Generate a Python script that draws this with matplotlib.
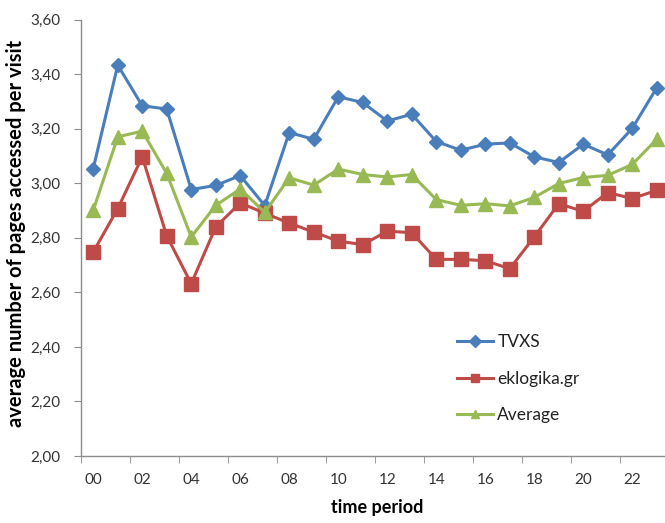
import matplotlib
matplotlib.use("Agg")
import matplotlib.pyplot as plt
import numpy as np
from matplotlib.ticker import FuncFormatter

font = {'family': 'Lato', 'size': 11}
matplotlib.rc("font", **font)

# hourly averages, 00..23
hours = ['%02d' % h for h in range(24)]
tvxs = [3.054, 3.433, 3.284, 3.272, 2.977, 2.992, 3.028, 2.918, 3.186, 3.161,
        3.317, 3.296, 3.228, 3.253, 3.153, 3.121, 3.143, 3.148, 3.097, 3.076,
        3.143, 3.104, 3.201, 3.350]
eklogika = [2.748, 2.907, 3.097, 2.807, 2.632, 2.840, 2.928, 2.890, 2.854, 2.821,
            2.788, 2.775, 2.824, 2.819, 2.721, 2.721, 2.716, 2.687, 2.803, 2.925,
            2.897, 2.966, 2.944, 2.974]
average = [2.901, 3.170, 3.191, 3.036, 2.803, 2.919, 2.979, 2.893, 3.020, 2.993,
           3.052, 3.032, 3.023, 3.032, 2.940, 2.919, 2.925, 2.917, 2.948, 2.999,
           3.021, 3.029, 3.069, 3.161]
series_names = ['TVXS', 'eklogika.gr', 'Average']

fig = plt.figure(figsize=(6.65, 5.23), dpi=100)
ax = fig.add_axes([0.1218, 0.128, 0.8842, 0.8346])

x = np.arange(len(hours))
ax.plot(x, tvxs, color='#4A7EBB', lw=2.2, marker='D', ms=7.6, label=series_names[0])
ax.plot(x, eklogika, color='#BE4B48', lw=2.2, marker='s', ms=9.5, label=series_names[1])
ax.plot(x, average, color='#98B954', lw=2.2, marker='^', ms=9.5, label=series_names[2])

ax.set_xlim(-0.5, 23.5)
ax.set_ylim(2.0, 3.6)
ax.set_yticks(np.arange(2.0, 3.61, 0.2))
ax.yaxis.set_major_formatter(FuncFormatter(lambda v, p: ('%.2f' % v).replace('.', ',')))

# labels sit on every other hour, tick marks on the category boundaries
ax.set_xticks(x[::2])
ax.set_xticklabels(hours[::2])
ax.set_xticks(np.arange(-0.5, 24, 2), minor=True)
ax.tick_params(axis='x', which='major', length=0, pad=12, colors='#333333')
ax.tick_params(axis='x', which='minor', length=5, color='#8C8C8C', direction='out')
ax.tick_params(axis='y', length=5, color='#8C8C8C', colors='#333333', pad=10)

for s in ['top', 'right']:
    ax.spines[s].set_visible(False)
for s in ['left', 'bottom']:
    ax.spines[s].set_color('#8C8C8C')
    ax.spines[s].set_linewidth(1.0)

ax.set_xlabel('time period', fontweight='bold', fontsize=13)
ax.set_ylabel('average number of pages accessed per visit', fontweight='bold', fontsize=14.5)
ax.xaxis.set_label_coords(0.503, -0.099)
ax.yaxis.set_label_coords(-0.094, 0.51)

leg = ax.legend(loc='upper left', bbox_to_anchor=(0.624, 0.30), frameon=False,
                borderpad=0, handlelength=2.1, labelspacing=1.2, handletextpad=0.25,
                fontsize=12.5)
for h in leg.legend_handles:
    h.set_markersize(6)
for t in leg.get_texts():
    t.set_color('#222222')

plt.savefig('out.png', dpi=100)
